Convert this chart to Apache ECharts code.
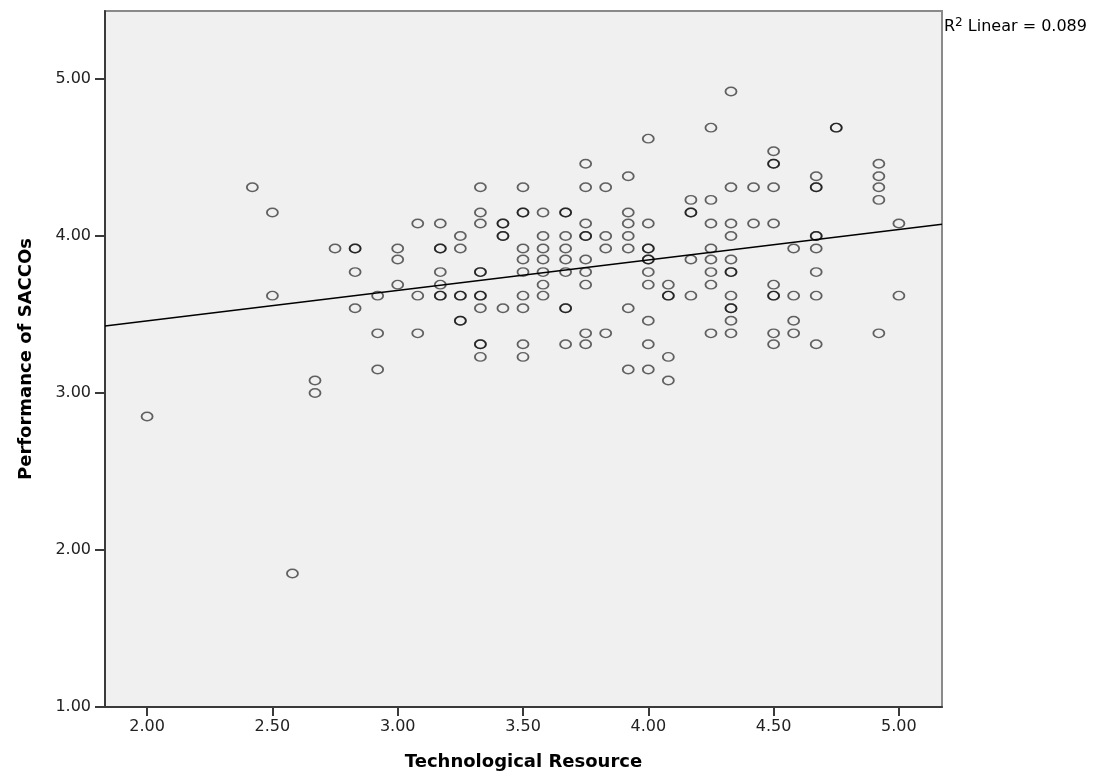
<!DOCTYPE html>
<html>
<head>
<meta charset="utf-8">
<title>Performance of SACCOs vs Technological Resource</title>
<script src="https://cdn.jsdelivr.net/npm/echarts@6.0.0/dist/echarts.min.js"></script>
<style>
  html, body { margin: 0; padding: 0; background: #fff; }
  #chart { width: 1101px; height: 780px; }
</style>
</head>
<body>
<div id="chart"></div>
<script>
// x levels (Technological Resource) and the y values found at each level
const techLevels = [2.00, 2.42, 2.50, 2.58, 2.67, 2.75, 2.83, 2.92, 3.00, 3.08, 3.17, 3.25, 3.33, 3.42, 3.50, 3.58,
  3.67, 3.75, 3.83, 3.92, 4.00, 4.08, 4.17, 4.25, 4.33, 4.42, 4.50, 4.58, 4.67, 4.75, 4.92, 5.00]
const perfByLevel = [
  [2.85],
  [4.31],
  [4.15, 3.62],
  [1.85],
  [3.08, 3.00],
  [3.92],
  [3.92, 3.92, 3.77, 3.54],
  [3.62, 3.38, 3.15],
  [3.92, 3.85, 3.69],
  [4.08, 3.62, 3.38],
  [4.08, 3.92, 3.92, 3.77, 3.69, 3.62, 3.62],
  [4.00, 3.92, 3.62, 3.62, 3.46, 3.46],
  [4.31, 4.15, 4.08, 3.77, 3.77, 3.62, 3.62, 3.54, 3.31, 3.31, 3.23],
  [4.08, 4.08, 4.00, 4.00, 3.54],
  [4.31, 4.15, 4.15, 3.92, 3.85, 3.77, 3.62, 3.54, 3.31, 3.23],
  [4.15, 4.00, 3.92, 3.85, 3.77, 3.69, 3.62],
  [4.15, 4.15, 4.00, 3.92, 3.85, 3.77, 3.54, 3.54, 3.31],
  [4.46, 4.31, 4.08, 4.00, 4.00, 3.85, 3.77, 3.69, 3.38, 3.31],
  [4.31, 4.00, 3.92, 3.38],
  [4.38, 4.15, 4.08, 4.00, 3.92, 3.54, 3.15],
  [4.62, 4.08, 3.92, 3.92, 3.85, 3.85, 3.77, 3.69, 3.46, 3.31, 3.15],
  [3.69, 3.62, 3.62, 3.23, 3.08],
  [4.23, 4.15, 4.15, 3.85, 3.62],
  [4.69, 4.23, 4.08, 3.92, 3.85, 3.77, 3.69, 3.38],
  [4.92, 4.31, 4.08, 4.00, 3.85, 3.77, 3.77, 3.62, 3.54, 3.54, 3.46, 3.38],
  [4.31, 4.08],
  [4.54, 4.46, 4.46, 4.31, 4.08, 3.69, 3.62, 3.62, 3.38, 3.31],
  [3.92, 3.62, 3.46, 3.38],
  [4.38, 4.31, 4.31, 4.00, 4.00, 3.92, 3.77, 3.62, 3.31],
  [4.69, 4.69],
  [4.46, 4.38, 4.31, 4.23, 3.38],
  [4.08, 3.62]
]

// fit line: y = a + b * x
const fitIntercept = 3.071
const fitSlope = 0.194
const r2Text = '0.089'

const xTicks = [2.0, 2.5, 3.0, 3.5, 4.0, 4.5, 5.0]
const yTicks = [1, 2, 3, 4, 5]
const xRange = [1.832, 5.172]
const yRange = [1, 5.433]

const points = []
techLevels.forEach((x, i) => {
  perfByLevel[i].forEach((y) => points.push([x, y]))
})
const fitLine = xRange.map((x) => [x, fitIntercept + fitSlope * x])

const chart = echarts.init(document.getElementById('chart'))

const tickLabel = {
  fontFamily: 'DejaVu Sans',
  fontSize: 16,
  color: '#222',
  formatter: (v) => Number(v).toFixed(2),
}

chart.setOption({
  animation: false,
  title: {
    left: 944,
    top: 17,
    padding: 0,
    text: '{a|R}{b|2}{a| Linear = ' + r2Text + '}',
    textStyle: {
      fontWeight: 'normal',
      rich: {
        a: { fontFamily: 'DejaVu Sans', fontWeight: 'normal', fontSize: 16, color: '#000', lineHeight: 20 },
        b: { fontFamily: 'DejaVu Sans', fontWeight: 'normal', fontSize: 12, color: '#000', verticalAlign: 'top', lineHeight: 12 },
      },
    },
  },
  grid: {
    left: 105,
    top: 11,
    right: 159,
    bottom: 73,
    show: true,
    backgroundColor: '#f0f0f0',
    borderColor: '#8a8a8a',
    borderWidth: 2,
  },
  xAxis: {
    type: 'value',
    min: xRange[0],
    max: xRange[1],
    name: 'Technological Resource',
    nameLocation: 'middle',
    nameGap: 46,
    nameTextStyle: { fontFamily: 'DejaVu Sans', fontWeight: 'bold', fontSize: 18, color: '#000' },
    splitLine: { show: false },
    axisLine: { show: true, lineStyle: { color: '#3a3a3a', width: 2 } },
    axisTick: { show: true, length: 9, customValues: xTicks, lineStyle: { color: '#3a3a3a', width: 2 } },
    axisLabel: Object.assign({ margin: 12, customValues: xTicks }, tickLabel),
  },
  yAxis: {
    type: 'value',
    min: yRange[0],
    max: yRange[1],
    name: 'Performance of SACCOs',
    nameLocation: 'middle',
    nameGap: 70,
    nameTextStyle: { fontFamily: 'DejaVu Sans', fontWeight: 'bold', fontSize: 18, color: '#000' },
    splitLine: { show: false },
    axisLine: { show: true, lineStyle: { color: '#3a3a3a', width: 2 } },
    axisTick: { show: true, length: 10, customValues: yTicks, lineStyle: { color: '#3a3a3a', width: 2 } },
    axisLabel: Object.assign({ margin: 14, customValues: yTicks }, tickLabel),
  },
  series: [
    {
      type: 'scatter',
      data: points,
      symbol: 'circle',
      symbolSize: [11, 8.5],
      itemStyle: {
        color: 'rgba(0,0,0,0)',
        borderColor: 'rgba(0,0,0,0.75)',
        borderWidth: 1.6,
      },
      z: 3,
    },
    {
      type: 'line',
      data: fitLine,
      symbol: 'none',
      clip: true,
      lineStyle: { color: '#000', width: 1.5 },
      z: 2,
    },
  ],
})
</script>
</body>
</html>
